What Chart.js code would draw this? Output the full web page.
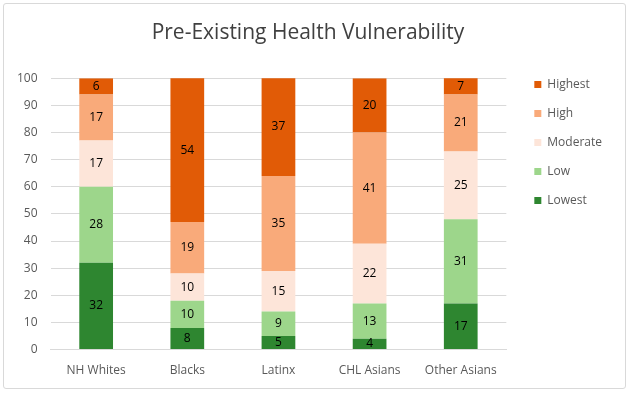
<!DOCTYPE html>
<html>
<head>
<meta charset="utf-8">
<script src="https://cdn.jsdelivr.net/npm/chart.js@4"></script>
<style>
  body { margin: 0; background: #fff; }
  #frame {
    position: absolute; left: 3px; top: 3px;
    width: 621px; height: 384px;
    border: 1px solid #d9d9d9; border-radius: 3px;
  }
</style>
</head>
<body>
<div id="frame"><canvas id="bar-chart" width="621" height="384"></canvas></div>
<script>

// DATA
const groups = ['NH Whites', 'Blacks', 'Latinx', 'CHL Asians', 'Other Asians'];
const lowest = [32, 8, 5, 4, 17];
const low = [28, 10, 9, 13, 31];
const moderate = [17, 10, 15, 22, 25];
const high = [17, 19, 35, 41, 21];
const highest = [6, 54, 37, 20, 7];
const yTicks = [0, 10, 20, 30, 40, 50, 60, 70, 80, 90, 100];

const fontFam = "'Open Sans', sans-serif";

// draws the numbers inside each bar segment
const barLabels = {
  id: 'barLabels',
  afterDatasetsDraw(chart) {
    const ctx = chart.ctx;
    const area = chart.chartArea;
    ctx.save();
    ctx.font = '12px ' + fontFam;
    ctx.fillStyle = '#000';
    ctx.textAlign = 'center';
    ctx.textBaseline = 'middle';
    chart.data.datasets.forEach((ds, i) => {
      chart.getDatasetMeta(i).data.forEach((bar, j) => {
        const top = Math.max(bar.y, area.top);
        const mid = (top + bar.base) / 2;
        ctx.fillText(ds.data[j], bar.x, mid);
      });
    });
    ctx.restore();
  }
};

// setup
const data = {
  labels: groups,
  datasets: [
    { label: 'Lowest', data: lowest, backgroundColor: '#2e8630' },
    { label: 'Low', data: low, backgroundColor: '#9dd68b' },
    { label: 'Moderate', data: moderate, backgroundColor: '#fde5d9' },
    { label: 'High', data: high, backgroundColor: '#f9aa7a' },
    { label: 'Highest', data: highest, backgroundColor: '#e15b06' }
  ]
};
data.datasets.forEach(ds => {
  ds.categoryPercentage = 1;
  ds.barPercentage = 0.37;
});

// config
const config = {
  type: 'bar',
  data,
  plugins: [barLabels],
  options: {
    responsive: false,
    animation: false,
    layout: { padding: { left: 0, right: 13, top: 0, bottom: 4 } },
    plugins: {
      title: {
        display: true,
        text: 'Pre-Existing Health Vulnerability',
        color: '#404040',
        font: { family: fontFam, size: 21, weight: 'normal' },
        padding: { top: 16, bottom: 33 }
      },
      legend: {
        position: 'right',
        align: 'start',
        reverse: true,
        title: { display: true, text: ' ', font: { size: 12 }, padding: { top: 43, bottom: 0 } },
        labels: {
          boxWidth: 7, boxHeight: 7,
          padding: 17,
          color: '#595959',
          font: { family: fontFam, size: 12 }
        }
      },
      tooltip: { enabled: false }
    },
    scales: {
      x: {
        stacked: true,
        grid: { display: false },
        border: { color: '#d9d9d9' },
        ticks: { color: '#595959', font: { family: fontFam, size: 12 }, padding: 6 }
      },
      y: {
        stacked: true,
        min: 0, max: 100,
        afterBuildTicks: axis => { axis.ticks = yTicks.map(v => ({ value: v })); },
        grid: { color: '#d9d9d9', drawTicks: false },
        border: { display: false },
        ticks: { color: '#595959', font: { family: fontFam, size: 12 }, padding: 13 }
      },
      // empty axis, just a gap between the plot and the legend
      gap: {
        type: 'linear',
        position: 'right',
        grid: { display: false },
        border: { display: false },
        ticks: { display: false },
        afterFit: axis => { axis.width = 11; }
      }
    }
  }
};

// render init block
const barChart = new Chart(document.getElementById('bar-chart'), config);
</script>
</body>
</html>
